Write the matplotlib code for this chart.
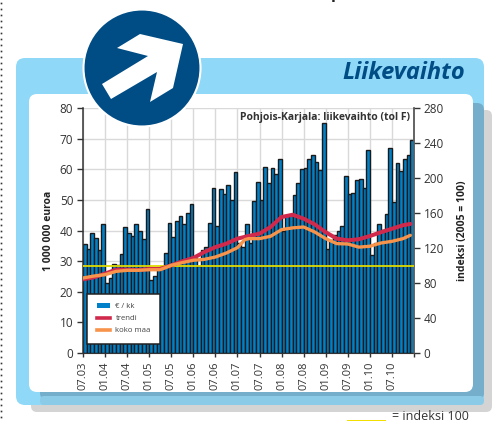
import matplotlib
matplotlib.use("Agg")
import matplotlib.pyplot as plt
from matplotlib.patches import FancyBboxPatch, Circle, Polygon, Rectangle, Patch
from matplotlib.lines import Line2D
import numpy as np

W, H = 500, 421
tick_labels = ["07.03","01.04","07.04","01.05","07.05","01.06","07.06","01.07","07.07","01.08","07.08","01.09","07.09","01.10","07.10",""]
euro_per_month = [35.5,34,39.2,37.6,33.7,42.2,22.9,24.5,29.2,28.6,32.2,41.3,39.3,38.2,42.2,40,37.3,47,
                  24,25,28,28.3,32.7,42.5,38,43,44.7,42.2,45.8,48.7,31,28.3,33.5,34.6,42.4,53.8,
                  41.4,53.4,51.8,54.9,50.1,59,36,34.5,42.2,36,49.7,56,49.9,60.8,55.6,60.5,58.6,63.4,
                  40,45.2,45.2,51.6,55.6,60,60.5,63.4,64.5,62.3,59.7,75,34,36.8,38.4,39.7,41.5,57.8,
                  51.8,52.4,56.4,56.9,54,66.2,31.9,36,42.2,40.3,45.5,67,49.4,62.2,59.5,63.4,64.8,69.5]
trend_month = [0,3,6,9,12,15,18,21,24,27,30,33,36,39,42,45,48,51,54,57,60,63,66,69,72,75,78,81,84,87,89]
trend_index = [84.2,86.5,90.7,95.3,95.3,94.9,96,96,100.2,104.8,108.6,115.4,121,125,130.7,133.7,136.4,144,155.4,158,153.5,147,138,130.7,128.8,130,133.7,138,142,146,147.5]
koko_month = [0,3,6,9,12,15,18,21,24,27,30,33,36,39,42,44,45,48,51,54,57,60,63,66,69,72,75,78,81,84,87,89]
koko_index = [85.7,88,89.5,93.3,94.5,94.5,95.2,95.2,100.2,103.3,106,107,109.7,114.3,120.4,129.5,130.7,130.7,133.4,141,143,144,138.3,130.7,125,124.6,121,122,125.7,127.6,130.7,134.5]
base_index = 100

plt.rcParams["font.family"] = ["Open Sans", "DejaVu Sans"]
fig = plt.figure(figsize=(W/100, H/100), dpi=100)
bg = fig.add_axes([0, 0, 1, 1], zorder=0)
bg.set_xlim(0, W); bg.set_ylim(H, 0); bg.axis("off")

def rbox(x0, y0, x1, y1, r, c, z):
    bg.add_patch(FancyBboxPatch((x0+r, y0+r), x1-x0-2*r, y1-y0-2*r, boxstyle=f"round,pad={r},rounding_size={r}", fc=c, ec="none", zorder=z))

bg.plot([1]*70, np.arange(3, 423, 6), ls="none", marker="s", ms=1.2, mew=0, color="#333333", zorder=1)
rbox(31, 110, 492, 412, 6, "#D4D4D4", 1)
rbox(16, 58, 484, 405, 9, "#8FD8F8", 2)
rbox(40, 103, 484, 400, 7, "#74AECB", 3)
rbox(40, 396, 484, 405, 4, "#8CCBE8", 3)
rbox(29, 94, 473, 392, 8, "#FFFFFF", 4)
bg.text(465, 73, "Liikevaihto", color="#004C85", fontsize=17, fontweight="bold", style="italic", ha="right", va="center", zorder=5)
bg.text(336, -2, "p", color="#222222", fontsize=12, fontweight="bold", ha="center", va="baseline", zorder=5)
bg.add_patch(Rectangle((347, 419.5), 39, 3, fc="#F2DF00", ec="none", zorder=5))
bg.text(392, 417, "= indeksi 100", color="#333333", fontsize=9, ha="left", va="center", zorder=5)

x0, x1, ytop, ybot = 83, 414, 108, 353
ax = fig.add_axes([x0/W, 1-ybot/H, (x1-x0)/W, (ybot-ytop)/H], zorder=2)
ax.patch.set_alpha(0)
months = np.arange(len(euro_per_month))
ax.bar(months, euro_per_month, width=1, align="edge", color="#0080C8", edgecolor="#1A1A1A", linewidth=1.0, zorder=2)
ax.set_xlim(0, 90); ax.set_ylim(0, 80)
ax.set_xticks(np.arange(0, 91, 6))
ax.set_xticklabels(tick_labels, rotation=90, fontsize=8, color="#333333")
ax.set_yticks(np.arange(0, 81, 10))
ax.tick_params(axis="y", labelsize=8.5, labelcolor="#333333", length=4, width=1, color="#333333", pad=3)
ax.tick_params(axis="x", length=3, width=1, color="#333333", pad=3)
ax.grid(True, color="#D9D9D9", lw=1, zorder=0)
ax.set_axisbelow(True)
ax.spines["top"].set_visible(False)
ax.spines["left"].set_color("#333333"); ax.spines["left"].set_linewidth(1.1)
ax.spines["right"].set_color("#888888"); ax.spines["right"].set_linewidth(1.1)
ax.spines["bottom"].set_color("#333333")
ax.set_ylabel("1 000 000 euroa", fontsize=7.5, fontweight="bold", color="#222222", labelpad=4)

ax2 = ax.twinx()
ax2.set_ylim(0, 280)
ax2.set_yticks(np.arange(0, 281, 40))
ax2.tick_params(axis="y", labelsize=8.5, labelcolor="#333333", length=4, width=1, color="#333333", pad=3)
ax2.axhline(base_index, color="#E0DA00", lw=1.3, zorder=3)
ax2.plot(trend_month, trend_index, color="#D1294B", lw=2.9, zorder=4, solid_capstyle="round")
ax2.plot(koko_month, koko_index, color="#F7934A", lw=2.4, zorder=5, solid_capstyle="round")
for s in ["top", "left", "bottom"]:
    ax2.spines[s].set_visible(False)
ax2.spines["right"].set_color("#555555"); ax2.spines["right"].set_linewidth(1.1)
ax2.set_ylabel("indeksi (2005 = 100)", fontsize=7.5, fontweight="bold", color="#222222", labelpad=9)
ax2.text(0.987, 0.962, "Pohjois-Karjala: liikevaihto (tol F)", transform=ax2.transAxes, ha="right", va="center", fontsize=7.45, fontweight="bold", color="#333333", zorder=6)

handles = [Patch(fc="#0080C8", ec="none"), Line2D([], [], color="#D1294B", lw=2.6), Line2D([], [], color="#F7934A", lw=2.6)]
leg = ax2.legend(handles, ["€ / kk", "trendi", "koko maa"], loc="lower left", bbox_to_anchor=(0.012, 0.037), borderaxespad=0,
                 fontsize=5.6, frameon=True, fancybox=False, framealpha=1, edgecolor="#222222", facecolor="white",
                 handlelength=1.75, handleheight=0.6, labelspacing=0.6, borderpad=1.25, handletextpad=0.65, labelcolor="#444444")
leg.set_zorder(7); leg.get_frame().set_linewidth(1.1)

top = fig.add_axes([0, 0, 1, 1], zorder=3)
top.set_xlim(0, W); top.set_ylim(H, 0); top.axis("off")
top.add_patch(Circle((142, 68), 58.5, fc="#004C85", ec="#FFFFFF", lw=1.5))
top.add_patch(Polygon([(102,84),(148,56),(117,48),(140,34),(183,44),(173,88),(150,102),(157,72),(111,99)], closed=True, fc="white", ec="none"))
fig.savefig("out.png", dpi=100)
